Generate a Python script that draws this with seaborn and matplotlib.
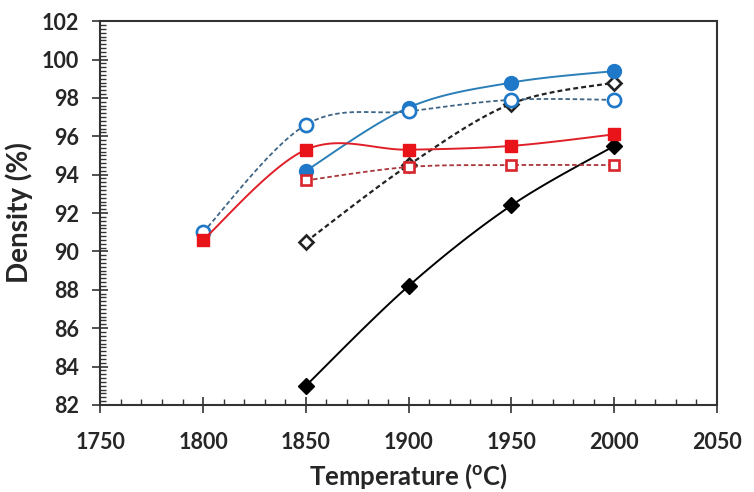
import numpy as np
import matplotlib
import matplotlib.pyplot as plt
import seaborn as sns
from matplotlib.ticker import MultipleLocator

sns.set_style("white")
matplotlib.rcParams["font.family"] = ["Lato", "DejaVu Sans"]
matplotlib.rcParams["font.weight"] = "bold"

temp_all = [1800, 1850, 1900, 1950, 2000]
temp_hi = [1850, 1900, 1950, 2000]

black_solid = [83.0, 88.2, 92.4, 95.5]
black_dash = [90.5, 94.5, 97.7, 98.8]
blue_solid = [94.2, 97.5, 98.8, 99.4]
blue_dash = [91.0, 96.6, 97.3, 97.9, 97.9]
red_solid = [90.6, 95.3, 95.3, 95.5, 96.1]
red_dash = [93.7, 94.4, 94.5, 94.5]

BLUE = "#1f78c8"
RED = "#e8141a"


def smooth(x, y, n=30):
    # Excel-style smoothed line (cubic Bezier, Catmull-Rom tangents)
    p = np.column_stack([x, y]).astype(float)
    ext = np.vstack([p[0], p, p[-1]])
    out = []
    t = np.linspace(0, 1, n)[:, None]
    for i in range(len(p) - 1):
        p0, p1, p2, p3 = ext[i], ext[i + 1], ext[i + 2], ext[i + 3]
        c1 = p1 + (p2 - p0) / 6
        c2 = p2 - (p3 - p1) / 6
        seg = ((1 - t) ** 3) * p1 + 3 * ((1 - t) ** 2) * t * c1 + 3 * (1 - t) * t ** 2 * c2 + t ** 3 * p2
        out.append(seg)
    s = np.vstack(out)
    return s[:, 0], s[:, 1]


fig, ax = plt.subplots(figsize=(7.54, 4.92), dpi=100)
fig.subplots_adjust(left=0.133, right=0.951, top=0.957, bottom=0.177)

# x, y, line colour, style, marker, face, edge, line width, marker size
series = [
    (temp_hi, black_solid, "black", "-", "D", "black", "black", 1.4, 8),
    (temp_hi, black_dash, "#222222", (0, (2.2, 1.4)), "D", "white", "#222222", 1.6, 7),
    (temp_hi, blue_solid, "#2a7fb8", "-", "o", BLUE, BLUE, 1.4, 10),
    (temp_all, blue_dash, "#3f6686", (0, (2.5, 1.5)), "o", "white", BLUE, 1.3, 9.5),
    (temp_all, red_solid, "#e02028", "-", "s", RED, RED, 1.4, 8),
    (temp_hi, red_dash, "#a8353a", (0, (2.5, 1.5)), "s", "white", "#d8262c", 1.3, 7.5),
]

for x, y, col, ls, mk, fc, ec, lw, ms in series:
    sx, sy = smooth(x, y)
    sns.lineplot(x=sx, y=sy, ax=ax, color=col, linestyle=ls, linewidth=lw, sort=False)
    ax.plot(x, y, linestyle="none", marker=mk, markersize=ms, markerfacecolor=fc,
            markeredgecolor=ec, markeredgewidth=1.9 if fc == "white" else 1.0)

ax.set_xlim(1750, 2050)
ax.set_ylim(82, 102)
ax.xaxis.set_major_locator(MultipleLocator(50))
ax.xaxis.set_minor_locator(MultipleLocator(10))
ax.yaxis.set_major_locator(MultipleLocator(2))
ax.yaxis.set_minor_locator(MultipleLocator(0.2))
ax.tick_params(which="major", direction="inout", length=11, width=1.2, color="#333333",
               labelsize=15.5, left=True, bottom=True)
ax.tick_params(axis="x", which="major", pad=14)
ax.tick_params(axis="y", which="major", pad=10)
ax.tick_params(which="minor", direction="in", length=4, width=1.0, color="#333333",
               left=True, bottom=True)
for sp in ax.spines.values():
    sp.set_color("#333333")
    sp.set_linewidth(1.5)

ax.set_xlabel("Temperature ($\\mathregular{^{o}}$C)", fontsize=18.5, fontweight="bold", labelpad=6)
ax.set_ylabel("Density (%)", fontsize=20, fontweight="bold", labelpad=6)
for lab in ax.get_xticklabels() + ax.get_yticklabels():
    lab.set_fontweight("bold")

fig.savefig("out.png", dpi=100)
